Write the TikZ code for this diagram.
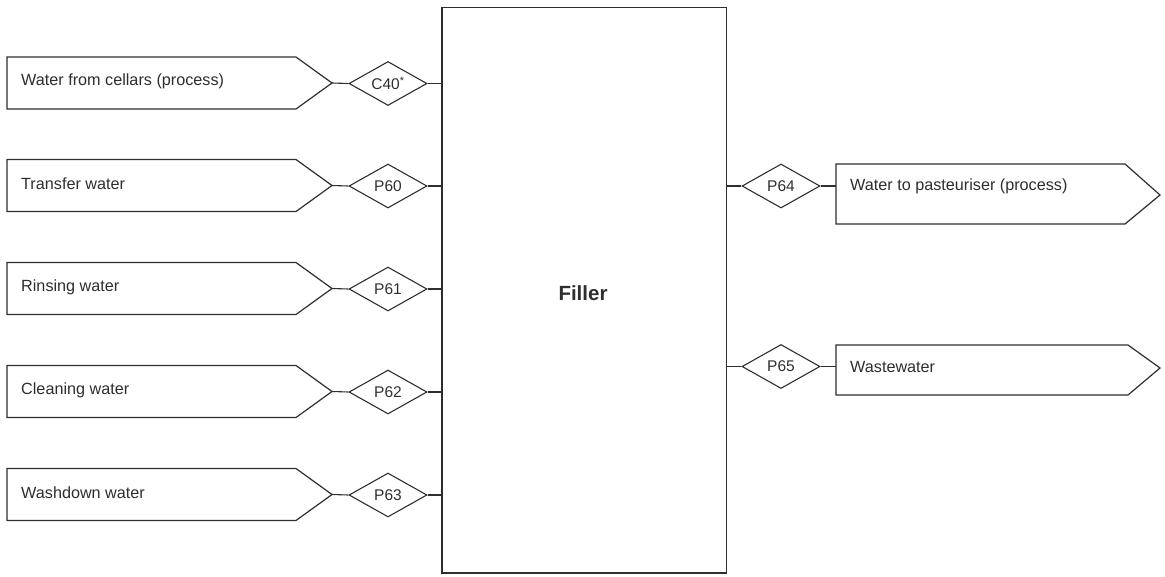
\documentclass[tikz,border=0pt]{standalone}
\usepackage{fontspec}
\setmainfont{Liberation Sans}
\usetikzlibrary{shapes.geometric}
\definecolor{ink}{HTML}{2E2E2E}
\tikzset{
  stream/.style={draw=ink, line width=1.2pt, line join=miter, fill=white},
  streamtext/.style={anchor=west, inner sep=0pt, font=\fontsize{16.2}{19}\selectfont, text=ink},
  meter/.style={draw=ink, line width=1.1pt, shape=diamond, aspect=1.77,
    minimum width=78pt, minimum height=44pt, inner sep=0pt,
    font=\fontsize{15.5}{18}\selectfont, text=ink},
  unit/.style={draw=ink, line width=1.3pt, minimum width=284.5pt, minimum height=565.5pt,
    inner sep=0pt},
  link/.style={draw=ink, line width=1.1pt}
}
\begin{document}
\begin{tikzpicture}[x=1pt,y=-1pt]
\useasboundingbox (0,0) rectangle (1165,576);

% central process unit
\node[unit] (filler) at (584.25,290.25) {};
\node[inner sep=0pt, font=\bfseries\fontsize{20.5}{24}\selectfont, text=ink] (fillerlbl) at (583,293) {Filler};

% incoming streams (left side)
\foreach \i/\y/\txt/\tag in {
  1/83/{Water from cellars (process)}/{C40\textsuperscript{*}},
  2/185.5/{Transfer water}/{P60},
  3/288.5/{Rinsing water}/{P61},
  4/391.5/{Cleaning water}/{P62},
  5/494.5/{Washdown water}/{P63}}{
  \draw[stream] (7,\y-26) -- (296,\y-26) -- (332,\y) -- (296,\y+26) -- (7,\y+26) -- cycle;
  \coordinate (in\i) at (332,\y);
  \node[streamtext] (intext\i) at (21,\y-1.5) {\txt};
  \node[meter] (m\i) at (388,\y+0.5) {\tag};
  \draw[link] (in\i) -- (m\i.west);
  \draw[link] (m\i.east) -- (filler.west |- m\i.east);
}

% outgoing streams (right side)
\node[meter] (m64) at (781,186) {P64};
\draw[stream] (836,164) -- (1125,164) -- (1160,195) -- (1125,224) -- (836,224) -- cycle;
\coordinate (out64) at (836,186);
\node[streamtext] (outtext64) at (850,186) {Water to pasteuriser (process)};
\draw[link] (filler.east |- m64.west) -- (m64.west);
\draw[link] (m64.east) -- (out64);

\node[meter] (m65) at (781,366.5) {P65};
\draw[stream] (836,345) -- (1128,345) -- (1160,368) -- (1128,395) -- (836,395) -- cycle;
\coordinate (out65) at (836,366.5);
\node[streamtext] (outtext65) at (850,366.5) {Wastewater};
\draw[link] (filler.east |- m65.west) -- (m65.west);
\draw[link] (m65.east) -- (out65);
\end{tikzpicture}
\end{document}
